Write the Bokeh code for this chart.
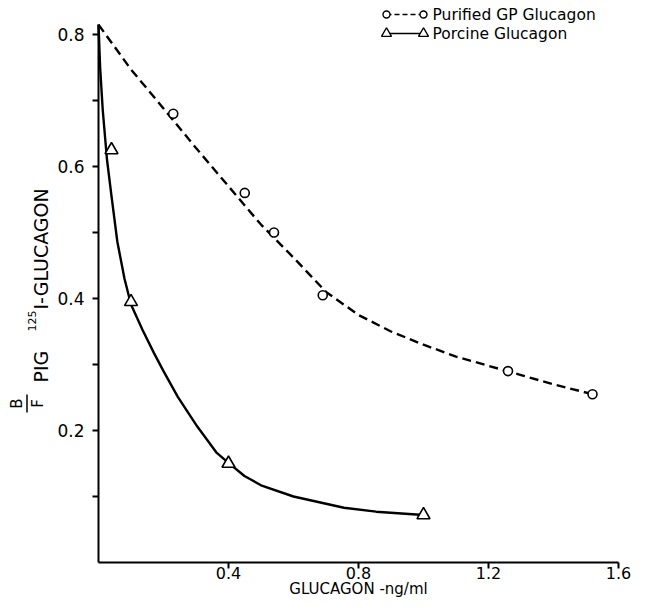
import math
from bokeh.plotting import figure
from bokeh.models import Range1d, FixedTicker
from bokeh.core.properties import value
from bokeh.embed import file_html
from bokeh.resources import INLINE

# ---- data ----
gp_x = [0.23, 0.45, 0.54, 0.69, 1.26, 1.52]
gp_y = [0.68, 0.56, 0.50, 0.405, 0.29, 0.255]
por_x = [0.04, 0.10, 0.40, 1.00]
por_y = [0.625, 0.395, 0.15, 0.072]

gp_curve_x = [0, 0.1, 0.2, 0.3, 0.4, 0.5, 0.6, 0.7, 0.8, 0.9, 1.0, 1.1, 1.2, 1.3, 1.4, 1.52]
gp_curve_y = [0.815, 0.747, 0.688, 0.628, 0.57, 0.512, 0.462, 0.41, 0.375, 0.35, 0.33, 0.312, 0.298, 0.284, 0.27, 0.255]

por_curve_x = [0, 0.005, 0.013, 0.026, 0.04, 0.058, 0.08, 0.1, 0.136, 0.17, 0.2, 0.244, 0.304,
               0.364, 0.4, 0.449, 0.5, 0.6, 0.7, 0.755, 0.854, 1.0]
por_curve_y = [0.815, 0.75, 0.686, 0.611, 0.555, 0.486, 0.43, 0.391, 0.352, 0.318, 0.29, 0.251, 0.206,
               0.166, 0.151, 0.131, 0.117, 0.1, 0.089, 0.083, 0.077, 0.072]

x_ticks = [0.4, 0.8, 1.2, 1.6]
y_ticks = [0.2, 0.4, 0.6, 0.8]
y_minor = [0.1, 0.3, 0.5, 0.7]

series_names = ["Purified GP Glucagon", "Porcine Glucagon"]
x_title = "GLUCAGON -ng/ml"
y_title_parts = ["B", "F", "PIG", "125", "I-GLUCAGON"]

FONT = "DejaVu Sans"

# ---- layout helpers: picture pixel -> data units (layout only) ----
X0_PX, Y0_PX = 98.0, 562.0          # where x=0 and y=0 sit in the picture
XS, YS = 325.0, 660.0               # pixels per data unit


def dx(px):
    return (px - X0_PX) / XS


def dy(py):
    return (Y0_PX - py) / YS


W, H = 631, 599
p = figure(width=W, height=H, output_backend="svg", toolbar_location=None,
           x_range=Range1d(dx(0), dx(W)), y_range=Range1d(dy(H), dy(0)),
           min_border=0, min_border_left=0, min_border_right=0,
           min_border_top=0, min_border_bottom=0)
p.outline_line_color = None
p.grid.visible = False
p.background_fill_color = "white"
p.border_fill_color = "white"

p.xaxis.ticker = FixedTicker(ticks=x_ticks)
p.yaxis.ticker = FixedTicker(ticks=y_ticks, minor_ticks=y_minor)
for ax in (p.xaxis[0], p.yaxis[0]):
    ax.fixed_location = 0
    ax.axis_line_width = 2
    ax.axis_line_color = "black"
    ax.major_tick_line_width = 2
    ax.major_tick_in = 0
    ax.major_tick_out = 6
    ax.minor_tick_line_width = 2
    ax.minor_tick_in = 0
    ax.minor_tick_out = 6
    ax.major_label_text_font = FONT
    ax.major_label_text_color = "black"
p.yaxis.major_label_text_font_size = "17px"
p.xaxis.major_label_text_font_size = "16px"
p.yaxis.bounds = (0, max(gp_curve_y))
p.xaxis.bounds = (0, max(x_ticks))
p.xaxis.minor_tick_out = 0
p.xaxis.major_label_standoff = -2
p.yaxis.major_label_standoff = 8
p.xaxis.axis_label = x_title
p.xaxis.axis_label_text_font = FONT
p.xaxis.axis_label_text_font_size = "15px"
p.xaxis.axis_label_text_font_style = "normal"
p.xaxis.axis_label_text_color = "black"
p.xaxis.axis_label_standoff = -2

# curves
p.line(gp_curve_x, gp_curve_y, line_color="black", line_width=2.4, line_dash="9 5")
p.line(por_curve_x, por_curve_y, line_color="black", line_width=2.4)

# markers
p.scatter(gp_x, gp_y, marker="circle", size=9, fill_color="white", line_color="black", line_width=1.6)
p.scatter(por_x, por_y, marker="triangle", size=13, fill_color="white", line_color="black", line_width=1.6)

# legend (marker - line - marker, then text)
lx = [dx(386), dx(423)]
ly = [dy(14), dy(33)]
p.line(lx, [ly[0]] * 2, line_color="black", line_width=1.5, line_dash="5 3")
p.scatter(lx, [ly[0]] * 2, marker="circle", size=7, fill_color="white", line_color="black", line_width=1.4)
p.line(lx, [ly[1]] * 2, line_color="black", line_width=1.5)
p.scatter(lx, [ly[1]] * 2, marker="triangle", size=10, fill_color="white", line_color="black", line_width=1.4)
p.text(x=[dx(432)] * 2, y=ly, text=series_names, text_font=value(FONT), text_font_size="15.5px",
       text_baseline="middle", text_align="left", text_color="black")

# rotated y-axis title: B over F, then PIG 125I-GLUCAGON
rot = math.pi / 2
p.text(x=[dx(16), dx(37)], y=[dy(403)] * 2, text=y_title_parts[0:2], angle=rot,
       text_font=value(FONT), text_font_size="15px", text_align="center",
       text_baseline="middle", text_color="black")
p.segment(x0=[dx(26.5)], y0=[dy(394)], x1=[dx(26.5)], y1=[dy(412)], line_color="black", line_width=1.5)
p.text(x=[dx(40)], y=[dy(382)], text=[y_title_parts[2]], angle=rot, text_font=value(FONT),
       text_font_size="19px", text_align="left", text_baseline="alphabetic", text_color="black")
p.text(x=[dx(31)], y=[dy(331)], text=[y_title_parts[3]], angle=rot, text_font=value(FONT),
       text_font_size="11px", text_align="left", text_baseline="alphabetic", text_color="black")
p.text(x=[dx(40)], y=[dy(309)], text=[y_title_parts[4]], angle=rot, text_font=value(FONT),
       text_font_size="19px", text_align="left", text_baseline="alphabetic", text_color="black")

open("out.html", "w").write(file_html(p, INLINE))
